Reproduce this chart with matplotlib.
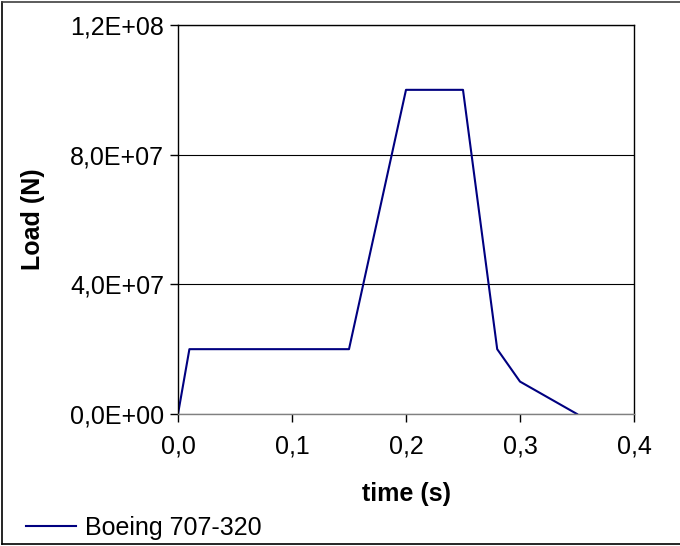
import matplotlib
matplotlib.use("Agg")
import matplotlib.pyplot as plt
from matplotlib.lines import Line2D

plt.rcParams['font.family'] = ['Liberation Sans', 'DejaVu Sans']

# load history
time_s = [0.0, 0.01, 0.15, 0.20, 0.25, 0.28, 0.30, 0.35]
load_n = [0.0, 2.0e7, 2.0e7, 1.0e8, 1.0e8, 2.0e7, 1.0e7, 0.0]
x_ticks = [0.0, 0.1, 0.2, 0.3, 0.4]
y_ticks = [0.0, 4.0e7, 8.0e7, 1.2e8]
x_labels = ['0,0', '0,1', '0,2', '0,3', '0,4']
y_labels = ['0,0E+00', '4,0E+07', '8,0E+07', '1,2E+08']

fig = plt.figure(figsize=(6.8, 5.46), dpi=100)
ax = fig.add_axes([178 / 680, 1 - 414 / 546, (634 - 178) / 680, (414 - 25) / 546])

ax.plot(time_s, load_n, color='#000080', lw=1.5, label='Boeing 707-320')
ax.set_xlim(0, 0.4)
ax.set_ylim(0, 1.2e8)
ax.set_xticks(x_ticks)
ax.set_xticklabels(x_labels)
ax.set_yticks(y_ticks)
ax.set_yticklabels(y_labels)
ax.tick_params(labelsize=18, direction='out', length=6, width=1, colors='black', pad=4)
ax.tick_params(axis='x', pad=9)
ax.grid(axis='y', color='black', lw=0.8)
for s in ax.spines.values():
    s.set_color('black')
    s.set_linewidth(1.0)
ax.spines['bottom'].set_color('#808080')

ax.set_xlabel('time (s)', fontsize=18, fontweight='bold', labelpad=17)
ax.set_ylabel('Load (N)', fontsize=18, fontweight='bold', labelpad=18)

# legend placed at lower left of the figure, no frame
handle = Line2D([], [], color='#000080', lw=1.5)
fig.legend([handle], ['Boeing 707-320'], loc='lower left', bbox_to_anchor=(0.005, -0.03),
           frameon=False, fontsize=18, handlelength=2.0, handletextpad=0.35)

# outer chart border (left, top, bottom)
fig.add_artist(Line2D([0.003, 0.003], [0.003, 0.997], color='black', lw=1.2, transform=fig.transFigure))
fig.add_artist(Line2D([0.003, 1.0], [0.997, 0.997], color='#404040', lw=1.2, transform=fig.transFigure))
fig.add_artist(Line2D([0.003, 1.0], [0.003, 0.003], color='black', lw=1.2, transform=fig.transFigure))

fig.savefig('out.png', dpi=100)
